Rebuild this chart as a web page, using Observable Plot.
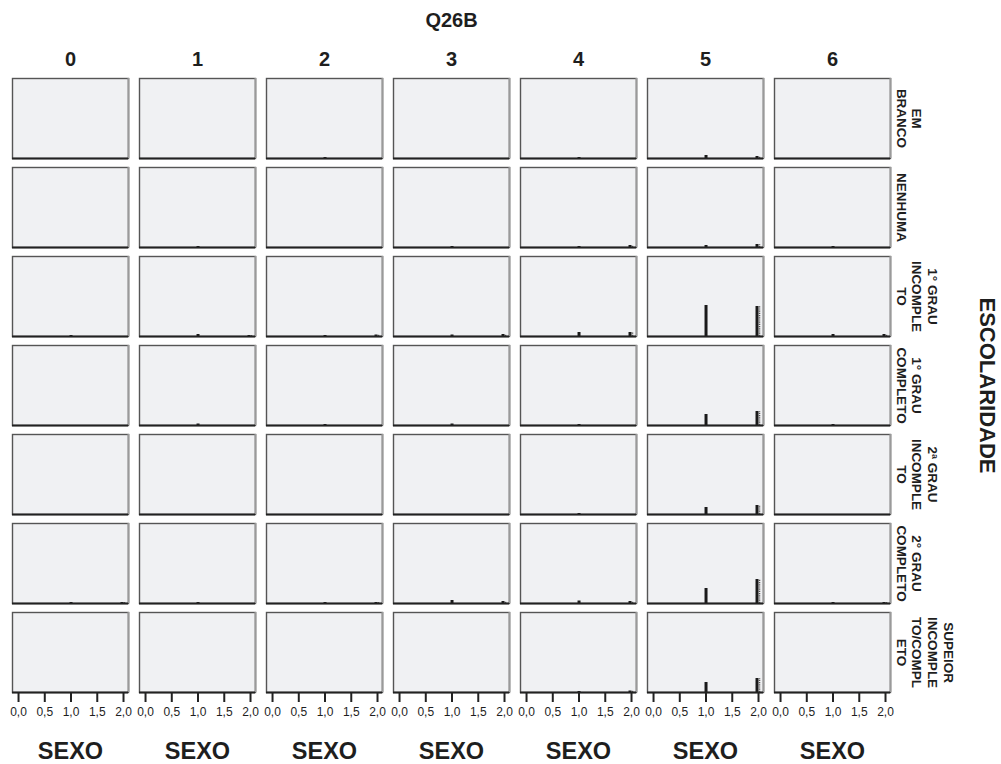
<!DOCTYPE html>
<html>
<head>
<meta charset="utf-8">
<script src="https://cdn.jsdelivr.net/npm/d3@7"></script>
<script src="https://cdn.jsdelivr.net/npm/@observablehq/plot@0.6"></script>
<style>
  html, body { margin: 0; padding: 0; background: #ffffff; }
  #chart svg { display: block; }
</style>
</head>
<body>
<div id="chart"></div>
<script>
// Q26B answer (columns) by schooling level (rows); counts per SEXO (1, 2)
const q26b = [0, 1, 2, 3, 4, 5, 6];

const escolaridade = [
  "EM\nBRANCO",
  "NENHUMA",
  "1° GRAU\nINCOMPLE\nTO",
  "1° GRAU\nCOMPLETO",
  "2ª GRAU\nINCOMPLE\nTO",
  "2° GRAU\nCOMPLETO",
  "SUPEIOR\nINCOMPLE\nTO/COMPL\nETO"
];

const sexoValues = [1, 2];
const xTicks = [0, 0.5, 1, 1.5, 2];

// counts for SEXO = 1, one row per schooling level, one entry per Q26B answer
const countsSexo1 = [
  [0, 0, 2, 0, 2, 6, 0],
  [0, 2, 0, 2, 2, 4, 2],
  [2, 4, 2, 3, 8, 62, 4],
  [0, 3, 2, 3, 2, 22, 2],
  [0, 0, 0, 0, 2, 14, 0],
  [2, 2, 2, 6, 5, 30, 2],
  [0, 0, 0, 0, 2, 20, 0]
];

// counts for SEXO = 2
const countsSexo2 = [
  [0, 0, 0, 0, 0, 4, 0],
  [0, 0, 0, 0, 4, 6, 0],
  [0, 2, 3, 4, 8, 60, 4],
  [0, 0, 0, 0, 0, 28, 0],
  [0, 0, 0, 0, 0, 18, 0],
  [2, 0, 2, 4, 4, 48, 2],
  [0, 0, 0, 0, 3, 28, 0]
];

const xDomain = [-0.115, 2.095];
const yDomain = [0, 160];

// long table built from the arrays above
const rows = [];
escolaridade.forEach((esc, i) => {
  q26b.forEach((q, j) => {
    rows.push({q26b: q, escolaridade: esc, sexo: sexoValues[0], count: countsSexo1[i][j]});
    rows.push({q26b: q, escolaridade: esc, sexo: sexoValues[1], count: countsSexo2[i][j]});
  });
});
const male = rows.filter(d => d.sexo === 1);
const female = rows.filter(d => d.sexo === 2);

const font = "'Liberation Sans', Arial, Helvetica, sans-serif";
const ink = "#1e1e1e";

const chart = Plot.plot({
  width: 1001,
  height: 764,
  marginLeft: 12,
  marginRight: 111,
  marginTop: 77,
  marginBottom: 72,
  style: {fontFamily: font, color: ink, background: "#ffffff"},
  fx: {domain: q26b, axis: null, paddingInner: 11 / 127, paddingOuter: 0},
  fy: {domain: escolaridade, axis: null, paddingInner: 9 / 89, paddingOuter: 0},
  x: {domain: xDomain},
  y: {domain: yDomain, axis: null},
  marks: [
    Plot.frame({fill: "#f0f1f3", stroke: "#555555", strokeWidth: 1.4}),
    Plot.ruleX([xDomain[1]], {stroke: "#9a9a9a", strokeWidth: 2}),
    // SEXO = 1 bars
    Plot.ruleX(male, {fx: "q26b", fy: "escolaridade", x: "sexo", y1: 0, y2: "count",
      stroke: "#1a1a1a", strokeWidth: 3}),
    // SEXO = 2 bars, with a dotted shadow edge
    Plot.ruleX(female, {fx: "q26b", fy: "escolaridade", x: "sexo", y1: 0, y2: "count",
      stroke: "#1a1a1a", strokeWidth: 3, dx: -1.5}),
    Plot.ruleX(female, {fx: "q26b", fy: "escolaridade", x: "sexo", y1: 0, y2: "count",
      stroke: "#555555", strokeWidth: 1.5, strokeDasharray: "1.2,1", dx: 1}),
    Plot.ruleY([0], {stroke: "#222222", strokeWidth: 2}),
    Plot.axisX({
      anchor: "bottom",
      ticks: xTicks,
      tickSize: 10,
      tickPadding: 5,
      tickFormat: d => d.toFixed(1).replace(".", ","),
      fontSize: 12,
      stroke: "#222222",
      strokeWidth: 2,
      label: null
    }),
    // column headers
    Plot.text(q26b, {fx: d => d, fy: () => escolaridade[0], text: d => String(d),
      frameAnchor: "top", lineAnchor: "middle", dy: -19, fontSize: 20, fontWeight: "bold", fill: ink}),
    Plot.text(["Q26B"], {fx: () => 3, fy: () => escolaridade[0], text: d => d,
      frameAnchor: "top", lineAnchor: "middle", dy: -58, fontSize: 20, fontWeight: "bold", fill: ink}),
    // x titles under each column
    Plot.text(q26b, {fx: d => d, fy: () => escolaridade[escolaridade.length - 1], text: () => "SEXO",
      frameAnchor: "bottom", lineAnchor: "middle", dy: 59, fontSize: 23.5, fontWeight: "bold", fill: ink}),
    // row labels on the right
    Plot.text(escolaridade, {fx: () => 6, fy: d => d, text: d => d,
      frameAnchor: "right", dx: 6, rotate: 90, textAnchor: "middle", lineAnchor: "bottom",
      lineHeight: 1.18, fontSize: 13.5, fontWeight: "bold", fill: ink}),
    Plot.text(["ESCOLARIDADE"], {fx: () => 6, fy: () => escolaridade[3], text: d => d,
      frameAnchor: "right", dx: 97, rotate: 90, textAnchor: "middle", lineAnchor: "middle",
      fontSize: 22, fontWeight: "bold", fill: ink})
  ]
});

document.getElementById("chart").appendChild(chart);
</script>
</body>
</html>
